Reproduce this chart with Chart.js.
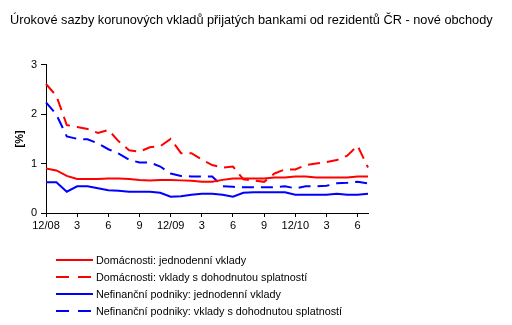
<!DOCTYPE html>
<html>
<head>
<meta charset="utf-8">
<script src="https://cdn.jsdelivr.net/npm/chart.js@4/dist/chart.umd.min.js"></script>
<style>
  body { margin: 0; background: #fff; }
  #wrap { position: relative; width: 512px; height: 325px; }
  #nadpis {
    position: absolute; left: 10px; top: 13.5px;
    font: 12.75px/12px Arial, "Liberation Sans", sans-serif; color: #000; white-space: nowrap;
  }
  #legend {
    position: absolute; left: 56px; top: 252px;
    font: 10.8px Arial, "Liberation Sans", sans-serif; color: #000;
  }
  .row { display: flex; align-items: center; height: 16.8px; white-space: nowrap; }
  .row svg { margin-right: 3px; }
</style>
</head>
<body>
<div id="wrap">
  <canvas id="grafico" width="512" height="325"></canvas>
  <div id="nadpis">Úrokové sazby korunových vkladů přijatých bankami od rezidentů ČR - nové obchody</div>
  <div id="legend"></div>
</div>
<script>
// Měsíce 12/2008 - 7/2011
const mesice = [
  "12/08", "1/09", "2/09", "3/09", "4/09", "5/09", "6/09", "7/09", "8/09", "9/09", "10/09", "11/09",
  "12/09", "1/10", "2/10", "3/10", "4/10", "5/10", "6/10", "7/10", "8/10", "9/10", "10/10", "11/10",
  "12/10", "1/11", "2/11", "3/11", "4/11", "5/11", "6/11", "7/11"
];
// popisky osy x (každý třetí měsíc)
const popiskyX = ["12/08", "3", "6", "9", "12/09", "3", "6", "9", "12/10", "3", "6"];
const popiskyY = ["0", "1", "2", "3"];

const domJednodenni = [
  0.90, 0.86, 0.75, 0.69, 0.69, 0.69, 0.70, 0.70, 0.69, 0.67, 0.66, 0.67,
  0.67, 0.66, 0.65, 0.63, 0.63, 0.67, 0.70, 0.70, 0.70, 0.70, 0.72, 0.72,
  0.74, 0.74, 0.72, 0.72, 0.72, 0.72, 0.74, 0.74
];
const domSplatnost = [
  2.61, 2.37, 1.78, 1.74, 1.70, 1.62, 1.68, 1.45, 1.27, 1.24, 1.33, 1.35,
  1.50, 1.21, 1.21, 1.08, 0.97, 0.92, 0.94, 0.68, 0.66, 0.63, 0.80, 0.88,
  0.88, 0.97, 1.00, 1.03, 1.07, 1.16, 1.36, 0.92
];
const nefJednodenni = [
  0.62, 0.62, 0.43, 0.54, 0.54, 0.50, 0.46, 0.45, 0.43, 0.43, 0.43, 0.41,
  0.33, 0.34, 0.37, 0.39, 0.39, 0.37, 0.33, 0.41, 0.42, 0.42, 0.42, 0.42,
  0.37, 0.37, 0.37, 0.37, 0.39, 0.37, 0.37, 0.39
];
const nefSplatnost = [
  2.24, 1.99, 1.55, 1.50, 1.49, 1.41, 1.29, 1.20, 1.08, 1.02, 1.02, 0.94,
  0.80, 0.75, 0.74, 0.74, 0.74, 0.54, 0.53, 0.52, 0.52, 0.52, 0.52, 0.54,
  0.50, 0.54, 0.54, 0.55, 0.60, 0.61, 0.63, 0.60
];

const pismo = "Arial, 'Liberation Sans', sans-serif";
const carky = [12, 7];

function serie(label, data, barva, dash) {
  return {
    label: label,
    data: data,
    borderColor: barva,
    backgroundColor: barva,
    borderWidth: 2,
    borderDash: dash,
    pointRadius: 0,
    tension: 0,
    fill: false
  };
}

const ctx = document.getElementById("grafico").getContext("2d");
const graf = new Chart(ctx, {
  type: "line",
  data: {
    labels: mesice,
    datasets: [
      serie("Domácnosti: jednodenní vklady", domJednodenni, "#ff0000", []),
      serie("Domácnosti: vklady s dohodnutou splatností", domSplatnost, "#ff0000", carky),
      serie("Nefinanční podniky: jednodenní vklady", nefJednodenni, "#0000ff", []),
      serie("Nefinanční podniky: vklady s dohodnutou splatností", nefSplatnost, "#0000ff", carky)
    ]
  },
  options: {
    responsive: false,
    animation: false,
    layout: { padding: { left: 10, right: 144, top: 64.7, bottom: 92 } },
    plugins: {
      legend: { display: false },
      tooltip: { enabled: false }
    },
    scales: {
      x: {
        offset: false,
        afterFit: function(s) { s.height = 20; },
        border: { color: "#000", width: 1 },
        grid: {
          drawOnChartArea: false,
          tickLength: 4,
          tickColor: function(c) { return c.index % 3 === 0 ? "#000" : "rgba(0,0,0,0)"; }
        },
        ticks: {
          autoSkip: false,
          maxRotation: 0,
          padding: 2,
          color: "#000",
          font: { family: pismo, size: 11 },
          callback: function(v, i) { return i % 3 === 0 ? popiskyX[i / 3] : ""; }
        }
      },
      y: {
        min: 0,
        max: 3,
        afterFit: function(s) { s.width = 36; },
        border: { color: "#000", width: 1 },
        grid: { drawOnChartArea: false, tickLength: 5, tickColor: "#000" },
        ticks: {
          stepSize: 1,
          padding: 4,
          color: "#000",
          font: { family: pismo, size: 11 },
          callback: function(v) { return popiskyY[v]; }
        },
        title: {
          display: true,
          text: "[%]",
          color: "#000",
          font: { family: pismo, size: 11, weight: "bold" },
          padding: { top: 3, bottom: 0 }
        }
      }
    }
  }
});

// legenda pod grafem
const legenda = document.getElementById("legend");
graf.data.datasets.forEach(function(ds) {
  const dash = ds.borderDash.length ? ' stroke-dasharray="13 9"' : "";
  const row = document.createElement("div");
  row.className = "row";
  row.innerHTML = '<svg width="37" height="6"><line x1="0" y1="3" x2="37" y2="3" stroke="' +
    ds.borderColor + '" stroke-width="2"' + dash + '/></svg><span>' + ds.label + '</span>';
  legenda.appendChild(row);
});
</script>
</body>
</html>
